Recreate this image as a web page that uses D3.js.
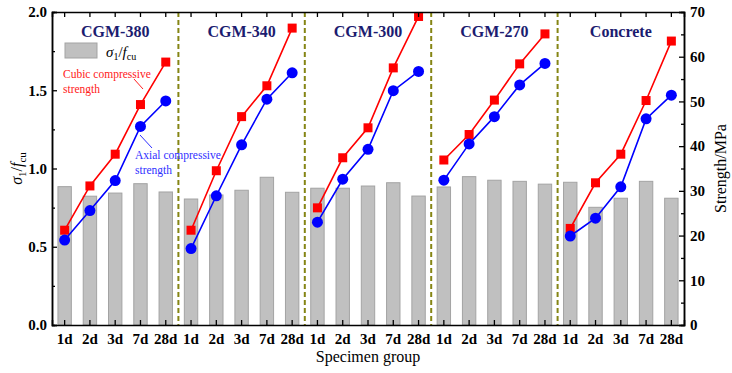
<!DOCTYPE html>
<html>
<head>
<meta charset="utf-8">
<script src="https://cdn.jsdelivr.net/npm/d3@7"></script>
<style>
  body { margin: 0; background: #fff; }
  .domain { stroke: #000; stroke-width: 1.5; }
  .tick line { stroke: #000; stroke-width: 1.3; }
</style>
</head>
<body>
<div id="chart"></div>
<script>
  var groups = ['CGM-380', 'CGM-340', 'CGM-300', 'CGM-270', 'Concrete'];
  var ages = ['1d', '2d', '3d', '7d', '28d'];
  // sigma1 / fcu (left axis)
  var ratio = [0.884, 0.823, 0.843, 0.903, 0.85,
               0.805, 0.831, 0.861, 0.944, 0.848,
               0.874, 0.874, 0.888, 0.909, 0.824,
               0.882, 0.948, 0.925, 0.918, 0.90,
               0.912, 0.752, 0.81, 0.918, 0.81];
  // Strength/MPa (right axis)
  var cubic = [21.2, 31.1, 38.2, 49.3, 58.8,
               21.2, 34.5, 46.6, 53.5, 66.4,
               26.2, 37.4, 44.1, 57.5, 69.0,
               36.9, 42.6, 50.3, 58.4, 65.1,
               21.6, 31.8, 38.2, 50.2, 63.5];
  var axial = [19.0, 25.6, 32.3, 44.4, 50.1,
               17.1, 28.9, 40.3, 50.5, 56.4,
               23.0, 32.6, 39.3, 52.4, 56.7,
               32.4, 40.5, 46.6, 53.7, 58.5,
               19.9, 23.9, 30.9, 46.1, 51.4];

  var FONT = '"Liberation Serif", "Times New Roman", serif';
  var W = 732, H = 373;
  var margin = {top: 12, right: 48, bottom: 48, left: 52};
  var width = W - margin.left - margin.right;
  var height = H - margin.top - margin.bottom;

  var svg = d3.select('#chart').append('svg')
    .attr('width', W).attr('height', H)
    .attr('font-family', FONT);
  var g = svg.append('g')
    .attr('transform', 'translate(' + margin.left + ',' + margin.top + ')');

  var idx = d3.range(ratio.length);
  var x = d3.scaleBand().domain(idx).range([0, width]).padding(0);
  var yL = d3.scaleLinear().domain([0, 2]).range([height, 0]);
  var yR = d3.scaleLinear().domain([0, 70]).range([height, 0]);
  var cx = function(i) { return x(i) + x.bandwidth() / 2; };
  var barW = x.bandwidth() * 0.53;

  // bars
  g.selectAll('rect.bar').data(idx).enter().append('rect')
    .attr('class', 'bar')
    .attr('x', function(i) { return cx(i) - barW / 2; })
    .attr('y', function(i) { return yL(ratio[i]); })
    .attr('width', barW)
    .attr('height', function(i) { return height - yL(ratio[i]); })
    .attr('fill', '#c0c0c0')
    .attr('stroke', '#a3a3a3')
    .attr('stroke-width', 1);

  // group separators
  for (var k = 1; k < groups.length; k++) {
    var sx = x(k * ages.length);
    g.append('line')
      .attr('x1', sx).attr('x2', sx)
      .attr('y1', 0).attr('y2', height)
      .attr('stroke', '#858514')
      .attr('stroke-width', 2)
      .attr('stroke-dasharray', '5,3');
  }

  // lines per group
  var series = [
    {vals: cubic, color: '#ff0000', shape: 'square'},
    {vals: axial, color: '#0000ff', shape: 'circle'}
  ];
  var line = d3.line().x(function(d) { return cx(d); });
  series.forEach(function(s) {
    line.y(function(d) { return yR(s.vals[d]); });
    groups.forEach(function(gr, gi) {
      var seg = d3.range(gi * 5, gi * 5 + 5);
      g.append('path').datum(seg)
        .attr('d', line)
        .attr('fill', 'none')
        .attr('stroke', s.color)
        .attr('stroke-width', 1.6);
    });
    if (s.shape === 'square') {
      g.selectAll(null).data(idx).enter().append('rect')
        .attr('x', function(i) { return cx(i) - 4.5; })
        .attr('y', function(i) { return yR(s.vals[i]) - 4.5; })
        .attr('width', 9).attr('height', 9)
        .attr('fill', s.color);
    } else {
      g.selectAll(null).data(idx).enter().append('circle')
        .attr('cx', cx)
        .attr('cy', function(i) { return yR(s.vals[i]); })
        .attr('r', 5.5)
        .attr('fill', s.color);
    }
  });

  // axes
  function styleAxis(sel) {
    sel.attr('font-family', FONT).attr('font-size', 15).attr('font-weight', 'bold');
    sel.selectAll('.tick text').attr('fill', '#000');
  }
  var xAxis = d3.axisBottom(x).tickSize(-5).tickPadding(8)
    .tickFormat(function(i) { return ages[i % ages.length]; });
  g.append('g').attr('transform', 'translate(0,' + height + ')').call(xAxis).call(styleAxis);
  g.append('g').call(d3.axisTop(x).tickSize(-5).tickFormat(''));

  g.append('g').call(d3.axisLeft(yL).tickValues([0, 0.5, 1, 1.5, 2])
    .tickSize(-5).tickPadding(5).tickFormat(d3.format('.1f'))).call(styleAxis);
  g.append('g').call(d3.axisLeft(yL).tickValues([0.25, 0.75, 1.25, 1.75])
    .tickSize(-3).tickFormat(''));

  g.append('g').attr('transform', 'translate(' + width + ',0)')
    .call(d3.axisRight(yR).tickValues(d3.range(0, 71, 10)).tickSize(-5).tickPadding(6))
    .call(styleAxis);
  g.append('g').attr('transform', 'translate(' + width + ',0)')
    .call(d3.axisRight(yR).tickValues(d3.range(5, 70, 10)).tickSize(-3).tickFormat(''));
  g.selectAll('.domain').attr('stroke-width', 1.5);

  // group titles
  groups.forEach(function(gr, gi) {
    g.append('text')
      .attr('x', (x(gi * 5) + x(gi * 5 + 4) + x.bandwidth()) / 2)
      .attr('y', 25)
      .attr('text-anchor', 'middle')
      .attr('font-weight', 'bold')
      .attr('font-size', 16)
      .attr('fill', '#1c1c70')
      .text(gr);
  });

  // legend
  g.append('rect').attr('x', 13).attr('y', 31).attr('width', 32).attr('height', 15)
    .attr('fill', '#c0c0c0').attr('stroke', '#a3a3a3');
  var lt = g.append('text').attr('x', 54).attr('y', 45).attr('font-size', 15);
  lt.append('tspan').attr('font-style', 'italic').text('σ');
  lt.append('tspan').attr('font-size', 10).attr('dy', 3).text('1');
  lt.append('tspan').attr('dy', -3).text('/');
  lt.append('tspan').attr('font-style', 'italic').text('f');
  lt.append('tspan').attr('font-size', 10).attr('dy', 3).text('cu');

  // annotations
  var ann = g.append('text').attr('font-size', 11.5).attr('fill', '#ff2020');
  ann.append('tspan').attr('x', 11).attr('y', 66).text('Cubic compressive');
  ann.append('tspan').attr('x', 11).attr('y', 81).text('strength');
  g.append('line').attr('x1', 82).attr('y1', 67).attr('x2', 91).attr('y2', 77)
    .attr('stroke', '#ff2020').attr('stroke-width', 1);

  var ann2 = g.append('text').attr('font-size', 11.5).attr('fill', '#3030ff');
  ann2.append('tspan').attr('x', 83).attr('y', 147).text('Axial compressive');
  ann2.append('tspan').attr('x', 83).attr('y', 162).text('strength');
  g.append('line').attr('x1', 88).attr('y1', 123).attr('x2', 100).attr('y2', 136)
    .attr('stroke', '#3030ff').attr('stroke-width', 1);

  // axis titles
  svg.append('text')
    .attr('x', 368).attr('y', 362)
    .attr('text-anchor', 'middle').attr('font-size', 16)
    .text('Specimen group');

  var yl = svg.append('text')
    .attr('transform', 'translate(22,' + (margin.top + height / 2) + ') rotate(-90)')
    .attr('text-anchor', 'middle').attr('font-size', 16);
  yl.append('tspan').attr('font-style', 'italic').text('σ');
  yl.append('tspan').attr('font-size', 11).attr('dy', 4).text('1');
  yl.append('tspan').attr('dy', -4).text('/');
  yl.append('tspan').attr('font-style', 'italic').text('f');
  yl.append('tspan').attr('font-size', 11).attr('dy', 4).text('cu');

  svg.append('text')
    .attr('transform', 'translate(726,' + (margin.top + height / 2) + ') rotate(-90)')
    .attr('text-anchor', 'middle').attr('font-size', 16)
    .text('Strength/MPa');
</script>
</body>
</html>
